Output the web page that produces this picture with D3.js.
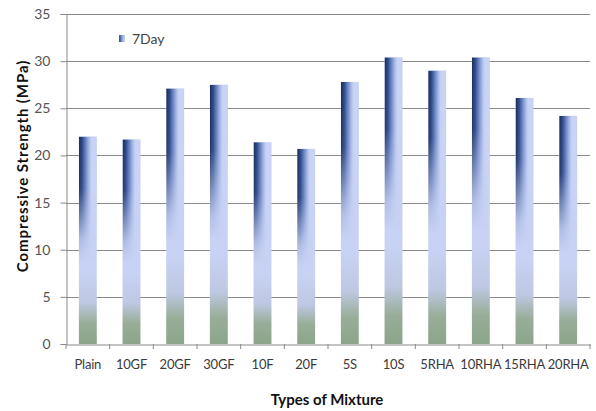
<!DOCTYPE html>
<html>
<head>
<meta charset="utf-8">
<script src="https://cdn.jsdelivr.net/npm/d3@7"></script>
<style>
  html, body { margin: 0; padding: 0; background: #fff; }
  svg { display: block; }
  text { font-family: Lato, "Open Sans", sans-serif; }
</style>
</head>
<body>
<svg id="chart" width="596" height="411"></svg>
<script>
// Mixture types and their 7-day compressive strength (MPa)
const mixtures = ["Plain", "10GF", "20GF", "30GF", "10F", "20F", "5S", "10S", "5RHA", "10RHA", "15RHA", "20RHA"];
const strength7Day = [22.0, 21.7, 27.1, 27.5, 21.4, 20.7, 27.8, 30.4, 29.0, 30.4, 26.1, 24.2];
const yTicks = [0, 5, 10, 15, 20, 25, 30, 35];
const seriesName = "7Day";

const svg = d3.select("#chart");
const plotLeft = 66, plotRight = 590, plotTop = 14, plotBottom = 344;

const x = d3.scaleBand().domain(mixtures).range([plotLeft, plotRight]).paddingInner(0.59).paddingOuter(0.295);
const y = d3.scaleLinear().domain([0, 35]).range([plotBottom, plotTop]);

// Gradients for the bar fill
const defs = svg.append("defs");
const vert = defs.append("linearGradient").attr("id", "barBase")
  .attr("x1", 0).attr("y1", 0).attr("x2", 0).attr("y2", 1);
[[0, "#c3cff3"], [0.65, "#c8d2f4"], [0.8, "#bec8e2"], [0.9, "#98ad98"], [1, "#8ca58a"]]
  .forEach(([o, c]) => vert.append("stop").attr("offset", o).attr("stop-color", c));

const horiz = defs.append("linearGradient").attr("id", "barShade")
  .attr("x1", 0).attr("y1", 0).attr("x2", 1).attr("y2", 0);
[[0, "#182a58", 1], [0.2, "#304c8c", 1], [0.45, "#7890cd", 0.9], [0.7, "#c8d3f5", 0.6], [0.9, "#d8e0fa", 0.3], [1, "#c3cdea", 0.3]]
  .forEach(([o, c, a]) => horiz.append("stop").attr("offset", o).attr("stop-color", c).attr("stop-opacity", a));

const fade = defs.append("linearGradient").attr("id", "fadeGrad")
  .attr("x1", 0).attr("y1", 0).attr("x2", 0).attr("y2", 1);
[[0, "#fff"], [0.25, "#eee"], [0.5, "#222"], [0.6, "#000"]]
  .forEach(([o, c]) => fade.append("stop").attr("offset", o).attr("stop-color", c));
const mask = defs.append("mask").attr("id", "fadeMask")
  .attr("maskContentUnits", "objectBoundingBox");
mask.append("rect").attr("x", 0).attr("y", 0).attr("width", 1).attr("height", 1).attr("fill", "url(#fadeGrad)");

// Horizontal gridlines
svg.append("g").selectAll("line").data(yTicks.filter(d => d > 0)).join("line")
  .attr("x1", plotLeft).attr("x2", plotRight)
  .attr("y1", d => Math.round(y(d)) + 0.5).attr("y2", d => Math.round(y(d)) + 0.5)
  .attr("stroke", "#8a8a8a").attr("stroke-width", 1.2);

// Y axis
const yAxis = svg.append("g").attr("transform", `translate(${plotLeft + 0.5},0)`)
  .call(d3.axisLeft(y).tickValues(yTicks).tickSize(6).tickPadding(10));
yAxis.select(".domain").attr("stroke", "#8a8a8a");
yAxis.selectAll(".tick line").attr("stroke", "#8a8a8a");
yAxis.selectAll(".tick text").attr("fill", "#555").style("font-size", "14px");

// X axis
const xAxis = svg.append("g").attr("transform", `translate(0,${plotBottom + 0.5})`)
  .call(d3.axisBottom(x).tickSize(0).tickPadding(15));
xAxis.select(".domain").attr("stroke", "#8a8a8a").attr("stroke-width", 1.2);
xAxis.selectAll(".tick text").attr("fill", "#3a3a3a").style("font-size", "13px").style("letter-spacing", "-0.2px");
// tick marks on category boundaries
const step = x.step();
svg.append("g").selectAll("line").data(d3.range(mixtures.length + 1)).join("line")
  .attr("x1", i => plotLeft + i * step).attr("x2", i => plotLeft + i * step)
  .attr("y1", plotBottom).attr("y2", plotBottom + 5)
  .attr("stroke", "#8a8a8a");

// Bars
const bars = svg.append("g").selectAll("g").data(mixtures).join("g");
bars.append("rect")
  .attr("x", d => x(d)).attr("width", x.bandwidth())
  .attr("y", (d, i) => y(strength7Day[i])).attr("height", (d, i) => plotBottom - y(strength7Day[i]))
  .attr("fill", "url(#barBase)");
bars.append("rect")
  .attr("x", d => x(d)).attr("width", x.bandwidth())
  .attr("y", (d, i) => y(strength7Day[i])).attr("height", (d, i) => plotBottom - y(strength7Day[i]))
  .attr("fill", "url(#barShade)").attr("mask", "url(#fadeMask)");

// Legend
const lg = svg.append("g").attr("transform", "translate(119,35)");
lg.append("rect").attr("width", 6).attr("height", 7).attr("fill", "url(#barShade)");
lg.append("rect").attr("x", 0).attr("width", 6).attr("height", 7).attr("fill", "#6f86c4").attr("opacity", 0.4);
lg.append("text").attr("x", 13).attr("y", 9).attr("fill", "#444").style("font-size", "14px").text(seriesName);

// Axis titles
svg.append("text").attr("x", 327).attr("y", 405)
  .attr("text-anchor", "middle").attr("fill", "#111")
  .style("font-size", "15px").style("font-weight", "bold").text("Types of Mixture");
svg.append("text").attr("transform", "translate(28,166) rotate(-90)")
  .attr("text-anchor", "middle").attr("fill", "#111")
  .style("font-size", "15px").style("font-weight", "bold").style("letter-spacing", "0.9px")
  .text("Compressive Strength (MPa)");
</script>
</body>
</html>
